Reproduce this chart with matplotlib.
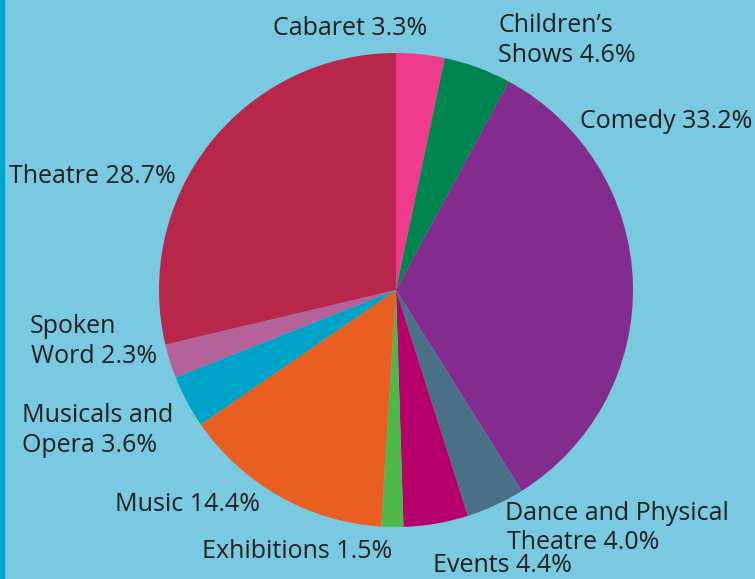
import matplotlib.pyplot as plt
from matplotlib.patches import Rectangle

# festival show categories, share of shows (%)
categories = ["Cabaret", "Children's Shows", "Comedy", "Dance and Physical Theatre",
              "Events", "Exhibitions", "Music", "Musicals and Opera", "Spoken Word", "Theatre"]
shares = [3.3, 4.6, 33.2, 4.0, 4.4, 1.5, 14.4, 3.6, 2.3, 28.7]
colors = ["#ef3b8c", "#00844f", "#832b8f", "#4a7086", "#b5006b",
          "#4db848", "#e95f22", "#00a3c8", "#b5629a", "#b8274a"]

# label lines (text, left x px, baseline y px from top)
label_lines = [
    ("Cabaret 3.3%", 273, 35),
    ("Children\u2019s", 498, 32),
    ("Shows 4.6%", 498, 62),
    ("Comedy 33.2%", 580, 128),
    ("Dance and Physical", 505, 520),
    ("Theatre 4.0%", 507, 549),
    ("Events 4.4%", 433, 572),
    ("Exhibitions 1.5%", 202, 558),
    ("Music 14.4%", 115, 511),
    ("Musicals and", 22, 422),
    ("Opera 3.6%", 22, 452),
    ("Spoken", 30, 333),
    ("Word 2.3%", 31, 363),
    ("Theatre 28.7%", 9, 183),
]

W, H = 755, 579
bg = "#79c9e0"

fig = plt.figure(figsize=(W / 100, H / 100), dpi=100)
fig.patch.set_facecolor(bg)
ax = fig.add_axes([0, 0, 1, 1])
ax.set_facecolor(bg)

ax.pie(shares, colors=colors, startangle=90, counterclock=False,
       center=(396, H - 290), radius=237,
       wedgeprops=dict(linewidth=0))

# dark strip down the left edge
ax.add_patch(Rectangle((0, 0), 4, H, color="#00a6cc", zorder=5))

for txt, x, y in label_lines:
    ax.text(x, H - y, txt, ha="left", va="baseline", fontsize=18,
            family="Open Sans", color="#231f20")

ax.set_xlim(0, W)
ax.set_ylim(0, H)
ax.set_aspect("equal")
ax.axis("off")

fig.savefig("out.png", dpi=100, facecolor=bg)
